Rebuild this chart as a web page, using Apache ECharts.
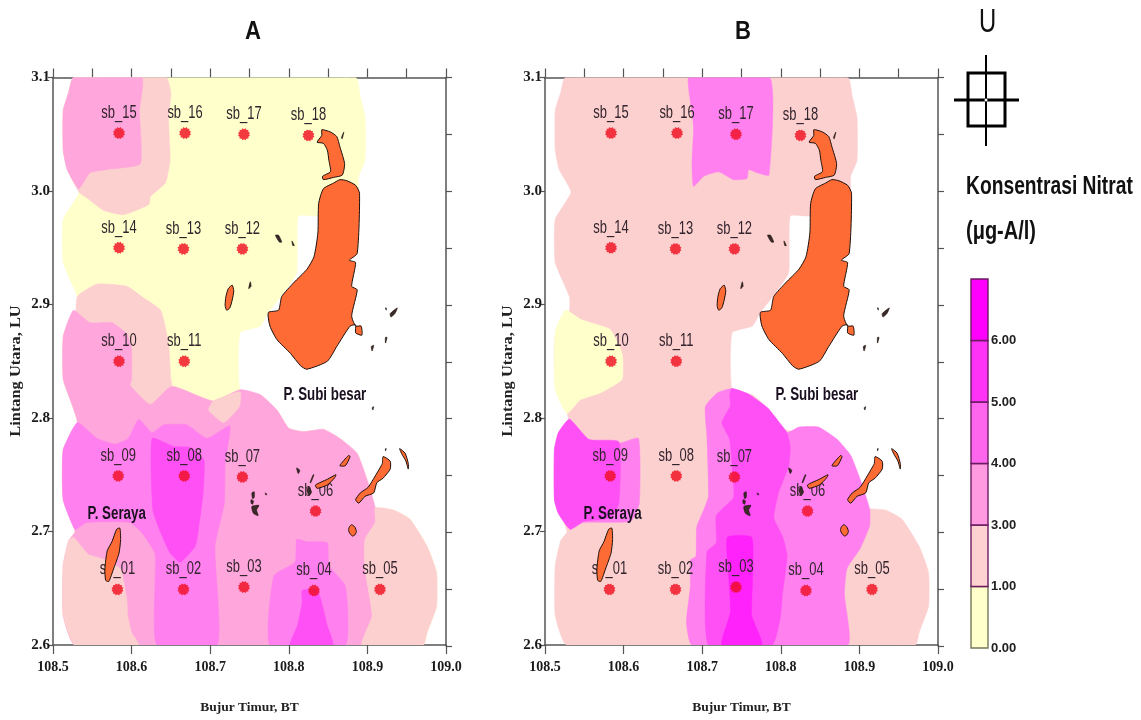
<!DOCTYPE html>
<html><head><meta charset="utf-8">
<style>html,body{margin:0;padding:0;background:#fff}#c{width:1141px;height:720px}</style>
<script src="https://cdn.jsdelivr.net/npm/echarts@6/dist/echarts.min.js"></script>
</head><body><div id="c"></div>
<script>
const legendLabels=["0.00","1.00","3.00","4.00","5.00","6.00",""];
const legendColors=["#FFFFCC","#FFD2D2","#FF99E0","#FF66EE","#FF33F5","#FF00FF"];
const YEL="#FFFFCC",L1="#FDD0D0",L2="#FFA6DC",L3="#FF80EE",L4="#FF50F5",L5="#FF22FB";

const stations=[
["sb_01",108.582,2.649],["sb_02",108.666,2.649],["sb_03",108.743,2.651],["sb_04",108.832,2.648],
["sb_05",108.916,2.649],["sb_06",108.834,2.718],["sb_07",108.741,2.748],["sb_08",108.667,2.749],
["sb_09",108.583,2.749],["sb_10",108.584,2.85],["sb_11",108.667,2.85],["sb_12",108.741,2.949],
["sb_13",108.666,2.949],["sb_14",108.584,2.95],["sb_15",108.584,3.051],["sb_16",108.668,3.051],
["sb_17",108.743,3.05],["sb_18",108.825,3.049]];

const footprint=[[108.526,3.1],[108.885,3.1],[108.891,3.083],[108.897,3.065],[108.897,3.027],[108.889,3.013],[108.887,2.992],[108.836,2.978],[108.812,2.978],[108.810,2.928],[108.793,2.910],[108.774,2.893],[108.764,2.881],[108.738,2.875],[108.738,2.825],[108.764,2.8205],[108.785,2.807],[108.800,2.791],[108.819,2.788],[108.844,2.790],[108.865,2.782],[108.887,2.769],[108.901,2.743],[108.910,2.721],[108.933,2.719],[108.954,2.711],[108.976,2.687],[108.988,2.664],[108.988,2.634],[108.976,2.611],[108.971,2.6],[108.528,2.6],[108.513,2.626],[108.513,2.670],[108.520,2.692],[108.528,2.700],[108.513,2.728],[108.513,2.772],[108.531,2.796],[108.513,2.834],[108.513,2.872],[108.531,2.895],[108.531,2.907],[108.513,2.937],[108.513,2.975],[108.533,2.999],[108.518,3.019],[108.513,3.036],[108.513,3.071],[108.520,3.087]];

// Panel A contour bands
const aTopPink=[[108.526,3.1],[108.644,3.1],[108.650,3.086],[108.647,3.065],[108.649,3.027],[108.643,3.007],[108.624,2.995],[108.622,2.988],[108.590,2.979],[108.564,2.983],[108.543,2.994],[108.533,2.999],[108.518,3.019],[108.513,3.036],[108.513,3.071],[108.520,3.087]];
const aTopL2=[[108.526,3.1],[108.613,3.1],[108.610,3.071],[108.611,3.024],[108.569,3.019],[108.547,3.016],[108.533,3.002],[108.518,3.019],[108.513,3.036],[108.513,3.071],[108.520,3.087]];
const aMidPink=[[108.531,2.907],[108.556,2.918],[108.594,2.916],[108.615,2.906],[108.637,2.895],[108.647,2.866],[108.650,2.834],[108.651,2.828],[108.624,2.812],[108.598,2.829],[108.531,2.88]];
const aLowL2=[[108.513,2.872],[108.526,2.895],[108.547,2.884],[108.575,2.884],[108.594,2.874],[108.600,2.860],[108.600,2.834],[108.598,2.829],[108.624,2.812],[108.651,2.828],[108.704,2.815],[108.738,2.825],[108.764,2.8205],[108.785,2.807],[108.800,2.791],[108.819,2.788],[108.844,2.790],[108.865,2.782],[108.887,2.769],[108.901,2.743],[108.910,2.721],[108.910,2.708],[108.897,2.693],[108.897,2.667],[108.906,2.626],[108.893,2.6],[108.528,2.6],[108.513,2.626],[108.513,2.670],[108.520,2.692],[108.528,2.700],[108.513,2.728],[108.513,2.772],[108.531,2.796],[108.513,2.834]];
const aRightPink=[[108.910,2.721],[108.933,2.719],[108.954,2.711],[108.976,2.687],[108.988,2.664],[108.988,2.634],[108.976,2.611],[108.971,2.6],[108.893,2.6],[108.906,2.626],[108.897,2.667],[108.897,2.693],[108.910,2.708]];
const aLeftPink=[[108.526,2.695],[108.545,2.680],[108.567,2.675],[108.586,2.667],[108.594,2.640],[108.595,2.626],[108.600,2.611],[108.609,2.6],[108.528,2.6],[108.513,2.626],[108.513,2.670],[108.520,2.692]];
const aPatchPink=[[108.698,2.807],[108.704,2.815],[108.738,2.823],[108.737,2.810],[108.717,2.796]];
const aL3=[[108.513,2.772],[108.531,2.796],[108.556,2.782],[108.579,2.777],[108.596,2.782],[108.609,2.799],[108.626,2.787],[108.641,2.794],[108.670,2.794],[108.696,2.782],[108.725,2.793],[108.719,2.760],[108.718,2.725],[108.706,2.687],[108.709,2.6],[108.632,2.6],[108.630,2.680],[108.613,2.699],[108.598,2.708],[108.543,2.708],[108.528,2.702],[108.513,2.728]];
const aL4=[[108.626,2.782],[108.653,2.775],[108.675,2.774],[108.692,2.763],[108.691,2.734],[108.685,2.702],[108.681,2.687],[108.662,2.673],[108.649,2.681],[108.637,2.699],[108.627,2.719]];
const aS4L3=[[108.781,2.661],[108.808,2.673],[108.810,2.693],[108.823,2.691],[108.849,2.690],[108.851,2.670],[108.872,2.652],[108.872,2.6],[108.776,2.6]];
const aS4L4=[[108.817,2.648],[108.836,2.649],[108.843,2.634],[108.849,2.617],[108.856,2.6],[108.802,2.6],[108.811,2.617],[108.817,2.637]];

// Panel B contour bands
const bYellow=[[108.526,2.895],[108.513,2.876],[108.513,2.825],[108.528,2.804],[108.545,2.816],[108.570,2.822],[108.598,2.834],[108.598,2.857],[108.583,2.878],[108.558,2.884],[108.545,2.887]];
const bTopL3=[[108.683,3.1],[108.786,3.1],[108.785,3.014],[108.770,3.016],[108.759,3.019],[108.757,3.011],[108.740,3.010],[108.721,3.017],[108.702,3.013],[108.689,3.004],[108.687,3.024],[108.689,3.057],[108.683,3.089]];
const bLeftL3=[[108.531,2.799],[108.556,2.781],[108.596,2.778],[108.619,2.782],[108.620,2.725],[108.609,2.709],[108.549,2.708],[108.532,2.702],[108.517,2.716],[108.512,2.728],[108.512,2.772],[108.517,2.787]];
const bLeftL4=[[108.531,2.799],[108.556,2.781],[108.594,2.779],[108.594,2.725],[108.583,2.712],[108.549,2.709],[108.532,2.702],[108.517,2.716],[108.512,2.728],[108.512,2.772],[108.517,2.787]];
const bMidL3=[[108.738,2.826],[108.759,2.821],[108.783,2.809],[108.797,2.797],[108.808,2.787],[108.823,2.792],[108.848,2.792],[108.872,2.781],[108.889,2.767],[108.901,2.746],[108.913,2.720],[108.913,2.705],[108.901,2.685],[108.884,2.667],[108.881,2.644],[108.885,2.6],[108.687,2.6],[108.680,2.620],[108.685,2.652],[108.685,2.675],[108.692,2.678],[108.693,2.704],[108.702,2.719],[108.708,2.731],[108.706,2.784],[108.704,2.810],[108.719,2.822]];
const bMidL4=[[108.738,2.826],[108.759,2.821],[108.783,2.809],[108.797,2.797],[108.808,2.787],[108.812,2.774],[108.810,2.758],[108.797,2.734],[108.791,2.712],[108.802,2.696],[108.808,2.679],[108.802,2.644],[108.799,2.623],[108.789,2.6],[108.708,2.6],[108.706,2.682],[108.718,2.690],[108.718,2.714],[108.740,2.730],[108.739,2.749],[108.735,2.781],[108.725,2.796],[108.736,2.811],[108.735,2.821]];
const bMidL5=[[108.732,2.695],[108.763,2.695],[108.764,2.658],[108.763,2.626],[108.776,2.6],[108.725,2.6],[108.736,2.629],[108.734,2.658]];

// Land
const landMain=[
[[108.842,3.054],[108.853,3.052],[108.861,3.048],[108.865,3.039],[108.871,3.024],[108.868,3.014],[108.857,3.012],[108.844,3.010],[108.843,3.013],[108.853,3.017],[108.851,3.027],[108.849,3.036],[108.844,3.042],[108.836,3.043],[108.842,3.049]],
[[108.865,3.010],[108.857,3.007],[108.844,3.002],[108.838,2.989],[108.837,2.963],[108.832,2.942],[108.823,2.931],[108.806,2.919],[108.791,2.907],[108.787,2.895],[108.774,2.893],[108.776,2.881],[108.785,2.869],[108.802,2.857],[108.815,2.846],[108.823,2.843],[108.849,2.850],[108.861,2.863],[108.878,2.881],[108.885,2.882],[108.885,2.875],[108.893,2.873],[108.892,2.881],[108.885,2.881],[108.880,2.890],[108.887,2.913],[108.880,2.916],[108.885,2.937],[108.877,2.939],[108.887,2.945],[108.890,2.998],[108.885,3.005],[108.874,3.009]],
[[108.728,2.917],[108.730,2.912],[108.728,2.904],[108.725,2.897],[108.721,2.895],[108.719,2.899],[108.720,2.907],[108.723,2.914]],
[[108.585,2.703],[108.586,2.693],[108.584,2.681],[108.577,2.667],[108.571,2.656],[108.567,2.657],[108.566,2.667],[108.569,2.683],[108.575,2.691],[108.581,2.702]],
[[108.920,2.766],[108.929,2.762],[108.929,2.755],[108.920,2.747],[108.912,2.743],[108.908,2.734],[108.897,2.731],[108.889,2.725],[108.885,2.728],[108.891,2.734],[108.901,2.739],[108.910,2.749],[108.916,2.756],[108.919,2.760]],
[[108.880,2.706],[108.884,2.704],[108.886,2.700],[108.884,2.697],[108.881,2.696],[108.878,2.698],[108.876,2.701],[108.877,2.704]],
[[108.941,2.773],[108.948,2.769],[108.952,2.760],[108.952,2.755],[108.949,2.762],[108.944,2.768]],
[[108.876,2.767],[108.878,2.766],[108.872,2.758],[108.865,2.758]],
[[108.834,2.741],[108.849,2.746],[108.860,2.750],[108.858,2.747],[108.849,2.741],[108.836,2.738]]
];
const landTiny=[
[[108.753,2.734],[108.756,2.735],[108.756,2.730],[108.754,2.729]],
[[108.752,2.728],[108.755,2.727],[108.754,2.724],[108.752,2.725]],
[[108.753,2.722],[108.762,2.723],[108.759,2.719],[108.761,2.714],[108.755,2.716]],
[[108.770,2.734],[108.772,2.733],[108.771,2.732]],
[[108.810,2.756],[108.814,2.754],[108.812,2.751]],
[[108.831,2.750],[108.832,2.750],[108.828,2.743],[108.827,2.743]],
[[108.825,2.739],[108.829,2.735],[108.826,2.732],[108.823,2.736]],
[[108.906,2.809],[108.908,2.810],[108.907,2.807]],
[[108.923,2.773],[108.924,2.773],[108.923,2.771]],
[[108.783,2.961],[108.787,2.961],[108.791,2.955],[108.788,2.955]],
[[108.804,2.956],[108.807,2.952],[108.805,2.952]],
[[108.751,2.920],[108.752,2.916],[108.749,2.914]],
[[108.870,3.052],[108.868,3.046],[108.867,3.047]],
[[108.923,2.897],[108.924,2.897],[108.924,2.895]],
[[108.929,2.892],[108.938,2.897],[108.935,2.892],[108.930,2.889]],
[[108.905,2.863],[108.908,2.864],[108.906,2.859]],
[[108.923,2.871],[108.925,2.871],[108.923,2.866]]
];

const layersA=[[footprint,YEL],[aTopPink,L1],[aTopL2,L2],[aMidPink,L1],[aLowL2,L2],[aRightPink,L1],[aLeftPink,L1],[aPatchPink,L1],[aL3,L3],[aL4,L4],[aS4L3,L3],[aS4L4,L4]];
const layersB=[[footprint,L1],[bYellow,YEL],[bTopL3,L3],[bLeftL3,L3],[bLeftL4,L4],[bMidL3,L3],[bMidL4,L4],[bMidL5,L5]];

const SERIF='"Liberation Serif","DejaVu Serif",serif';
const SANS='"Liberation Sans",Arial,sans-serif';
function burst(){let d='';const n=12;for(let i=0;i<n*2;i++){const r=i%2?1:0.8,a=Math.PI*i/n;d+=(i?'L':'M')+(r*Math.cos(a)*10).toFixed(2)+' '+(r*Math.sin(a)*10).toFixed(2);}return 'path://'+d+'Z';}
const BURST=burst();

function polySeries(layers,ax,z,stroke,lw,smooth){
  return {type:'custom',coordinateSystem:'cartesian2d',xAxisIndex:ax,yAxisIndex:ax,z:z,silent:true,clip:true,
    data:layers.map(l=>l[0][0]),
    renderItem:(p,api)=>{const l=layers[p.dataIndex];
      return {type:'polygon',shape:{points:l[0].map(c=>api.coord(c)),smooth:smooth||0},
        style:{fill:l[1],stroke:stroke||l[1],lineWidth:lw==null?0.5:lw}};}
  };
}
function textSeries(items,ax,z,opts){
  return {type:'custom',coordinateSystem:'cartesian2d',xAxisIndex:ax,yAxisIndex:ax,z:z,silent:true,clip:false,
    data:items.map(s=>[s[1],s[2]]),
    renderItem:(p,api)=>{const c=api.coord([items[p.dataIndex][1],items[p.dataIndex][2]]);
      return {type:'text',x:c[0],y:c[1]+opts.dy,scaleX:opts.sx,
        style:{text:items[p.dataIndex][0],textAlign:'center',textVerticalAlign:'middle',
          font:opts.font,fill:opts.fill}};}
  };
}
function panelSeries(layers,ax,serayaLon){
  const places=[['P. Subi besar',108.846,2.82],['P. Seraya',serayaLon,2.715]];
  return [
    polySeries(layers,ax,1,null,null,0.15),
    {type:'scatter',xAxisIndex:ax,yAxisIndex:ax,z:3,symbol:BURST,symbolSize:12,silent:true,
      itemStyle:{color:'#F00A1C'},data:stations.map(s=>[s[1],s[2]])},
    textSeries(stations,ax,3,{dy:-20,sx:0.72,font:'18px '+SANS,fill:'#32242c'}),
    textSeries(places,ax,5,{dy:0,sx:0.74,font:'bold 18px '+SANS,fill:'#1a1020'}),
    polySeries(landMain.map(l=>[l,'#FF6B35']),ax,4,'#1c0f0a',1,0.2),
    polySeries(landTiny.map(l=>[l,'#3a2a2a']),ax,4,'#1c0f0a',0.6,0.2)
  ];
}
const axisCol='#555';
function xA(grid,top,iv,name){return {type:'value',gridIndex:grid,position:top?'top':'bottom',min:108.5,max:109,interval:iv,
  name:name||'',nameLocation:'middle',nameGap:56,nameTextStyle:{fontFamily:SERIF,fontWeight:'bold',fontSize:13.5,color:'#222'},
  axisLine:{show:true,onZero:false,lineStyle:{color:axisCol,width:1.5}},axisTick:{show:true,inside:false,length:9,lineStyle:{color:axisCol,width:1.2}},
  splitLine:{show:false},axisLabel:{show:!top,margin:15,fontFamily:SERIF,fontWeight:'bold',fontSize:14,color:'#1a1a1a',formatter:v=>v.toFixed(1)}};}
function yA(grid,right,iv){return {type:'value',gridIndex:grid,position:right?'right':'left',min:2.6,max:3.1,interval:iv,
  axisLine:{show:true,onZero:false,lineStyle:{color:axisCol,width:1.5}},axisTick:{show:true,inside:false,length:right?6:5,lineStyle:{color:axisCol,width:1.2}},
  splitLine:{show:false},axisLabel:{show:!right,margin:3,fontFamily:SERIF,fontWeight:'bold',fontSize:15,color:'#1a1a1a',formatter:v=>v.toFixed(1)}};}

const H=568.5,T=77.5;
const yTitle=x=>({type:'text',x:x,y:371,rotation:Math.PI/2,scaleX:1.09,
  style:{text:'Lintang Utara, LU',textAlign:'center',textVerticalAlign:'middle',font:'bold 15px '+SERIF,fill:'#222'}});
const txt=(t,x,y,sx,font)=>({type:'text',x:x,y:y,scaleX:sx,style:{text:t,textAlign:'left',textVerticalAlign:'middle',font:font,fill:'#111'}});
const opt={
  animation:false,backgroundColor:'#fff',
  grid:[{left:53,top:T,width:393,height:H},{left:53,top:T,width:393,height:H},
        {left:545,top:T,width:393,height:H},{left:545,top:T,width:393,height:H},
        {left:971,top:279,width:17,height:369}],
  xAxis:[xA(0,false,0.1,'Bujur Timur, BT'),xA(1,true,0.05),xA(2,false,0.1,'Bujur Timur, BT'),xA(3,true,0.05),
    {type:'value',gridIndex:4,min:0,max:1,show:false}],
  yAxis:[yA(0,false,0.1),yA(1,true,0.05),yA(2,false,0.1),yA(3,true,0.05),
    {type:'value',gridIndex:4,min:0,max:6,interval:1,position:'right',
     axisLine:{show:false},axisTick:{show:false},splitLine:{show:false},
     axisLabel:{margin:3,fontFamily:SANS,fontWeight:'bold',fontSize:13,color:'#222',formatter:v=>legendLabels[v]}}],
  series:[...panelSeries(layersA,0,108.581),...panelSeries(layersB,2,108.586),
    {type:'custom',coordinateSystem:'cartesian2d',xAxisIndex:4,yAxisIndex:4,silent:true,
     data:legendColors.map((c,i)=>[0,i]),
     renderItem:(p,api)=>{const i=p.dataIndex,a=api.coord([0,i+1]),b=api.coord([1,i]);
       return {type:'rect',shape:{x:a[0],y:a[1],width:b[0]-a[0],height:b[1]-a[1]},
         style:{fill:legendColors[i],stroke:i===0?'#77775a':'#6b1a60',lineWidth:1.4}};}}
  ],
  graphic:[
    txt('A',245,32,0.85,'bold 26px '+SANS),
    txt('B',735,32,0.85,'bold 26px '+SANS),
    txt('U',979,23,0.7,'34px '+SANS),
    {type:'rect',shape:{x:968,y:73,width:37,height:53},style:{fill:'none',stroke:'#000',lineWidth:3}},
    {type:'line',shape:{x1:986,y1:55,x2:986,y2:146},style:{stroke:'#000',lineWidth:2}},
    {type:'line',shape:{x1:954,y1:100,x2:1019,y2:100},style:{stroke:'#000',lineWidth:3}},
    {type:'circle',shape:{cx:986,cy:100,r:1.5},style:{fill:'#fff'}},
    txt('Konsentrasi Nitrat',966,187,0.77,'bold 25px '+SANS),
    txt('(\u03bcg-A/l)',966,232,0.8,'bold 25px '+SANS),
    yTitle(16),yTitle(508)
  ]
};
echarts.init(document.getElementById('c'),null,{renderer:'canvas'}).setOption(opt);
</script></body></html>
